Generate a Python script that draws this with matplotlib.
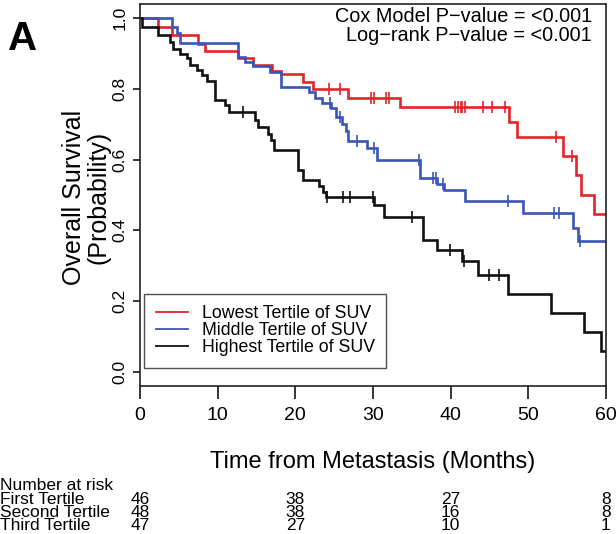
import numpy as np
import matplotlib
matplotlib.use("Agg")
import matplotlib.pyplot as plt
import matplotlib.transforms as mtransforms

plt.rcParams['font.family'] = ['Liberation Sans', 'DejaVu Sans']

# ---- data ----
red_t = [0, 2.3, 4.1, 7.5, 8.4, 12.6, 14.5, 17.0, 18.1, 21.0, 22.3, 26.8, 33.5,
         47.5, 48.6, 54.5, 56.1, 56.8, 58.5]
red_s = [1.0, 0.975, 0.952, 0.928, 0.908, 0.886, 0.867, 0.851, 0.843, 0.82, 0.80,
         0.773, 0.748, 0.707, 0.663, 0.61, 0.556, 0.50, 0.446]
red_c = [24.3, 25.8, 29.7, 30.1, 31.7, 32.1, 40.6, 41.0, 41.3, 41.5, 41.9, 44.1,
         45.3, 47.0, 53.5, 55.6]

blue_t = [0, 4.1, 4.8, 5.2, 12.6, 13.5, 14.5, 16.8, 18.1, 21.8, 22.5, 23.4, 24.6,
          25.3, 26.0, 26.5, 26.8, 29.2, 30.5, 36.1, 38.3, 39.1, 41.9, 49.3, 55.7, 56.4]
blue_s = [1.0, 0.975, 0.957, 0.93, 0.89, 0.877, 0.864, 0.848, 0.806, 0.79, 0.775,
          0.76, 0.745, 0.72, 0.70, 0.68, 0.652, 0.632, 0.60, 0.547, 0.53, 0.514,
          0.483, 0.448, 0.406, 0.37]
blue_c = [24.5, 25.7, 28.0, 30.1, 35.9, 37.7, 38.1, 39.0, 47.4, 53.3, 53.9, 56.6]

black_t = [0, 0.3, 2.3, 3.9, 4.3, 5.2, 6.1, 6.5, 7.4, 8.0, 8.6, 9.7, 11.0, 11.4,
           14.8, 15.2, 16.5, 16.9, 17.2, 20.3, 21.0, 23.0, 23.6, 24.0, 30.1, 31.4,
           36.5, 38.3, 41.5, 43.5, 47.4, 52.9, 57.2, 59.4]
black_s = [1.0, 0.975, 0.952, 0.933, 0.914, 0.90, 0.886, 0.867, 0.853, 0.839, 0.823,
           0.768, 0.754, 0.735, 0.712, 0.693, 0.672, 0.655, 0.627, 0.571, 0.542,
           0.525, 0.508, 0.495, 0.472, 0.439, 0.373, 0.345, 0.312, 0.274, 0.22,
           0.167, 0.112, 0.058]
black_c = [13.3, 24.1, 26.2, 27.1, 30.0, 35.0, 39.9, 41.7, 44.9, 46.2]

labels = ["Lowest Tertile of SUV", "Middle Tertile of SUV", "Highest Tertile of SUV"]
colors = ["#e3242b", "#3a55b5", "#111111"]

risk_times = [0, 20, 40, 60]
risk_rows = ["First Tertile", "Second Tertile", "Third Tertile"]
risk_first = [46, 38, 27, 8]
risk_second = [48, 38, 16, 8]
risk_third = [47, 27, 10, 1]

x_ticks = [0, 10, 20, 30, 40, 50, 60]
y_ticks = [0.0, 0.2, 0.4, 0.6, 0.8, 1.0]
t_end = 60

# ---- figure ----
W, H = 616, 534
fig = plt.figure(figsize=(W / 100, H / 100), dpi=100)
ax = fig.add_axes([140 / W, 1 - 386 / H, (606 - 140) / W, (386 - 4) / H])

def step_value(ts, ss, t):
    idx = np.searchsorted(ts, t, side='right') - 1
    return np.asarray(ss)[idx]

series = [(red_t, red_s, red_c), (blue_t, blue_s, blue_c), (black_t, black_s, black_c)]
for (ts, ss, cs), col, lab in zip(series, colors, labels):
    tt = list(ts) + [t_end]
    sv = list(ss) + [ss[-1]]
    ax.plot(tt, sv, drawstyle='steps-post', color=col, lw=1.9, label=lab,
            solid_joinstyle='miter')
    cy = step_value(np.array(ts), ss, np.array(cs))
    ax.plot(cs, cy, linestyle='none', marker='|', markersize=9, mew=1.2, color=col)

ax.set_xlim(0, 60)
ax.set_ylim(-0.04, 1.04)
ax.set_xticks(x_ticks)
ax.set_xticklabels([str(v) for v in x_ticks], fontsize=14)
ax.set_yticks(y_ticks)
ax.set_yticklabels([f"{v:.1f}" for v in y_ticks], fontsize=12.5, rotation=90, va='center')
ax.tick_params(axis='x', length=9, width=1.1, pad=6, direction='out')
ax.tick_params(axis='y', length=5, width=1.1, pad=4, direction='out')
for sp in ax.spines.values():
    sp.set_linewidth(1.2)
    sp.set_color('#222222')

# legend
leg = ax.legend(handles=[plt.Line2D([], [], color=c, lw=1.3) for c in colors],
                labels=labels, loc='lower left',
                bbox_to_anchor=(144 / W, 1 - 368 / H), bbox_transform=fig.transFigure,
                fontsize=12.8, frameon=True, fancybox=False, edgecolor='#222222',
                labelspacing=0.0, handlelength=1.8, handletextpad=0.8,
                borderpad=0.65, borderaxespad=0)
leg.get_frame().set_linewidth(1.0)

# p-value text
fig.text(592 / W, 1 - 17 / H, "Cox Model P\u2212value = <0.001", ha='right', va='center',
         fontsize=14.3)
fig.text(592 / W, 1 - 35.5 / H, "Log\u2212rank P\u2212value = <0.001", ha='right', va='center',
         fontsize=14.3)

# panel letter
fig.text(8 / W, 1 - 50 / H, "A", fontsize=29, fontweight='bold', ha='left', va='baseline')

# axis labels
fig.text(373 / W, 1 - 462 / H, "Time from Metastasis (Months)", ha='center', va='center',
         fontsize=17)
fig.text(86 / W, 1 - 197 / H, "Overall Survival\n(Probability)", ha='center', va='center',
         rotation=90, fontsize=18, linespacing=1.0, multialignment='center')

# number at risk table
trans = mtransforms.blended_transform_factory(ax.transData, fig.transFigure)
fs_risk = 12.5
fig.text(0 / W, 1 - 485 / H, "Number at risk", ha='left', va='center', fontsize=fs_risk)
row_y = [499, 512.5, 526]
for name, vals, yy in zip(risk_rows, [risk_first, risk_second, risk_third], row_y):
    fig.text(0 / W, 1 - yy / H, name, ha='left', va='center', fontsize=fs_risk)
    for t, v in zip(risk_times, vals):
        ax.text(t, 1 - yy / H, str(v), transform=trans, ha='center', va='center',
                fontsize=fs_risk, clip_on=False)

fig.savefig("out.png", dpi=100)
